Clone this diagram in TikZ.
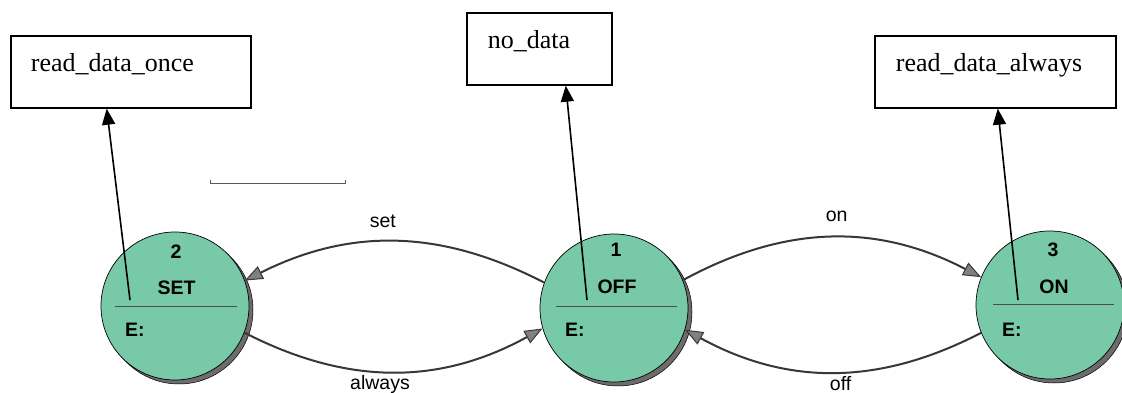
\documentclass[tikz,border=0pt]{standalone}
\usepackage{fontspec}
\setmainfont{Liberation Serif}
\setsansfont{Liberation Sans}
\usepackage{tikz}
\usetikzlibrary{arrows.meta, positioning, calc, shadows}
\definecolor{stategreen}{RGB}{120,201,168}
\definecolor{transgray}{RGB}{55,55,55}

\begin{document}
\begin{tikzpicture}[x=1pt, y=1pt,
  state/.style={circle, draw=black, line width=0.7pt, fill=stategreen, minimum size=148pt, inner sep=0pt,
    general shadow={shadow xshift=4pt, shadow yshift=-4pt, fill=gray!85!black, draw=black, line width=0.5pt}},
  actbox/.style={draw, line width=1.7pt, align=left, inner xsep=20pt, minimum height=72pt,
    text height=18pt, text depth=18pt, font=\fontsize{26}{30}\selectfont},
  stxt/.style={font=\sffamily\bfseries\fontsize{19.5}{22}\selectfont, inner sep=0pt},
  lbl/.style={font=\sffamily\fontsize{19.5}{22}\selectfont, text height=14pt, text depth=4pt, inner sep=3pt},
  trans/.style={draw=transgray, line width=2pt, -{Triangle[length=18pt, width=14pt, fill=gray, line width=1pt]}},
  act/.style={line width=1.6pt, -{Triangle[length=16pt, width=13pt]}}]
\useasboundingbox (0,0) rectangle (1122,392);

% action boxes
\node[actbox, text width=200pt, anchor=north west] (once) at (10,357) {read\_data\_once};
\node[actbox, text width=103pt, inner xsep=21pt, anchor=north west] (nodata) at (466,380) {no\_data};
\node[actbox, text width=199pt, inner xsep=21pt, anchor=north west] (always) at (874,357) {read\_data\_always};

% stray bracket
\draw[gray!70!black, line width=0.8pt] (210,212) -- (210,209) -- (345,209) -- (345,212);

% states
\node[state] (set) at (175,86) {};
\node[state] (off) at (614,84) {};
\node[state] (on) at (1050,87) {};
\draw[black!70] ($(set.center)+(-60,0)$) -- ($(set.center)+(62,0)$);
\draw[black!70] ($(off.center)+(-58,2)$) -- ($(off.center)+(63,2)$);
\draw[black!70] ($(on.center)+(-57,1)$) -- ($(on.center)+(64,1)$);
\node[stxt] (n2) at ($(set.center)+(1,54)$) {2};
\node[stxt] (t2) at ($(set.center)+(1.5,18)$) {SET};
\node[stxt, anchor=west] (e2) at ($(set.center)+(-50,-24)$) {E:};
\node[stxt] (n1) at ($(off.center)+(2,58)$) {1};
\node[stxt] (t1) at ($(off.center)+(3,21)$) {OFF};
\node[stxt, anchor=west] (e1) at ($(off.center)+(-49,-22)$) {E:};
\node[stxt] (n3) at ($(on.center)+(3,55)$) {3};
\node[stxt] (t3) at ($(on.center)+(4,18)$) {ON};
\node[stxt, anchor=west] (e3) at ($(on.center)+(-48,-25)$) {E:};

% entry actions
\coordinate (a2) at ($(set.center)+(-45,6)$);
\coordinate (b2) at ($(once.south west)!0.4!(once.south east)$);
\coordinate (a1) at ($(off.center)+(-27,8)$);
\coordinate (b1) at ($(nodata.south west)!0.68!(nodata.south east)$);
\coordinate (a3) at ($(on.center)+(-32,5)$);
\coordinate (b3) at ($(always.south west)!0.51!(always.south east)$);
\draw[act] (a2) -- (b2);
\draw[act] (a1) -- (b1);
\draw[act] (a3) -- (b3);

% transitions
\draw[trans] (off.160) to[bend right=27] node[lbl, above=6pt, xshift=-12pt] (lset) {set} (set.20);
\draw[trans] (off.22) to[bend left=28] node[lbl, above=8pt, xshift=5pt] (lon) {on} (on.158);
\draw[trans] (set.-21) to[bend right=28] node[lbl, below=0pt, xshift=-14pt] (lalways) {always} (off.196);
\draw[trans] (on.202) to[bend left=28] node[lbl, below=0pt, xshift=8pt] (loff) {off} (off.-17);
\end{tikzpicture}
\end{document}
